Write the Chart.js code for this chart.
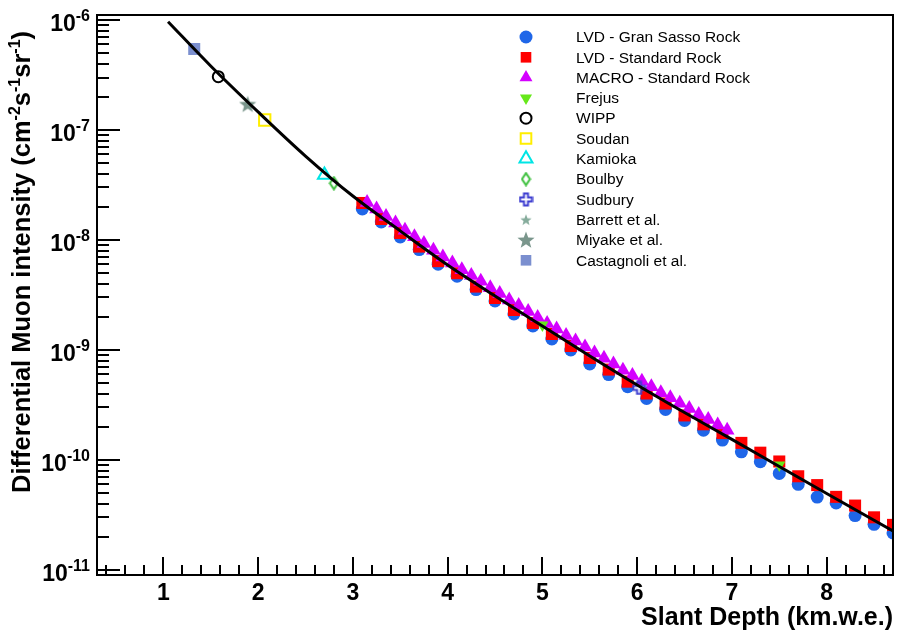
<!DOCTYPE html>
<html>
<head>
<meta charset="utf-8">
<script src="https://cdn.jsdelivr.net/npm/chart.js@4.4.1/dist/chart.umd.min.js"></script>
<style>
  html, body { margin: 0; background: #fff; }
  #wrap { width: 903px; height: 633px; }
</style>
</head>
<body>
<div id="wrap"><canvas id="chart" width="903" height="633"></canvas></div>
<script>
// Depth-intensity relation, values (km w.e. / cm^-2 s^-1 sr^-1)
const fitDepth = [1.05, 1.5, 2, 2.5, 3, 3.5, 4, 4.5, 5, 5.5, 6, 6.5, 7, 7.5, 8, 8.7];
const fitIntensity = [9.65e-7, 3.82e-7, 1.46e-7, 5.80e-8, 2.51e-8, 1.21e-8, 5.93e-9, 3.10e-9,
  1.65e-9, 8.82e-10, 4.81e-10, 2.70e-10, 1.54e-10, 8.73e-11, 4.96e-11, 2.26e-11];

const lvdDepth = [3.1, 3.3, 3.5, 3.7, 3.9, 4.1, 4.3, 4.5, 4.7, 4.9, 5.1, 5.3, 5.5, 5.7, 5.9,
  6.1, 6.3, 6.5, 6.7, 6.9, 7.1, 7.3, 7.5, 7.7, 7.9, 8.1, 8.3, 8.5, 8.7];
const lvdGranSasso = [1.913e-8, 1.457e-8, 1.065e-8, 8.18e-9, 6.03e-9, 4.69e-9, 3.54e-9, 2.79e-9,
  2.125e-9, 1.652e-9, 1.259e-9, 1.0e-9, 7.46e-10, 5.98e-10, 4.64e-10, 3.62e-10, 2.88e-10,
  2.29e-10, 1.862e-10, 1.517e-10, 1.185e-10, 9.65e-11, 7.54e-11, 6.01e-11, 4.60e-11, 4.07e-11,
  3.12e-11, 2.60e-11, 2.17e-11];
const lvdStandard = [2.17e-8, 1.552e-8, 1.158e-8, 8.71e-9, 6.42e-9, 4.99e-9, 3.77e-9, 2.97e-9,
  2.31e-9, 1.76e-9, 1.398e-9, 1.087e-9, 8.46e-10, 6.63e-10, 5.15e-10, 4.02e-10, 3.26e-10,
  2.54e-10, 2.11e-10, 1.756e-10, 1.43e-10, 1.165e-10, 9.69e-11, 7.11e-11, 5.91e-11, 4.62e-11,
  3.85e-11, 3.01e-11, 2.57e-11];

const macroDepth = [3.15, 3.25, 3.35, 3.45, 3.55, 3.65, 3.75, 3.85, 3.95, 4.05, 4.15, 4.25, 4.35,
  4.45, 4.55, 4.65, 4.75, 4.85, 4.95, 5.05, 5.15, 5.25, 5.35, 5.45, 5.55, 5.65, 5.75, 5.85, 5.95,
  6.05, 6.15, 6.25, 6.35, 6.45, 6.55, 6.65, 6.75, 6.85, 6.95];
const macroStandard = [2.19e-8, 1.913e-8, 1.635e-8, 1.427e-8, 1.223e-8, 1.072e-8, 9.29e-9,
  8.06e-9, 6.99e-9, 6.17e-9, 5.36e-9, 4.76e-9, 4.22e-9, 3.67e-9, 3.26e-9, 2.85e-9, 2.54e-9,
  2.24e-9, 1.975e-9, 1.741e-9, 1.552e-9, 1.354e-9, 1.207e-9, 1.065e-9, 9.41e-10, 8.42e-10,
  7.46e-10, 6.54e-10, 5.85e-10, 5.20e-10, 4.63e-10, 4.09e-10, 3.68e-10, 3.28e-10, 2.93e-10,
  2.59e-10, 2.33e-10, 2.08e-10, 1.862e-10];

const frejusDepth = [5.0, 7.5];
const frejus = [1.69e-9, 9.0e-11];
const wippDepth = [1.58];
const wipp = [3.05e-7];
const soudanDepth = [2.07];
const soudan = [1.233e-7];
const kamiokaDepth = [2.70];
const kamioka = [3.90e-8];
const boulbyDepth = [2.80];
const boulby = [3.28e-8];
const sudburyDepth = [6.02];
const sudbury = [4.52e-10];
const barrettDepth = [1.89];
const barrett = [1.71e-7];
const miyakeDepth = [1.89];
const miyake = [1.71e-7];
const castagnoliDepth = [1.326];
const castagnoli = [5.45e-7];

const xMajorTicks = [1, 2, 3, 4, 5, 6, 7, 8];
const yDecades = [-11, -10, -9, -8, -7, -6];

const FONT = '"Liberation Sans", Arial, Helvetica, sans-serif';

function pts(xs, ys) {
  return xs.map((x, i) => ({ x, y: ys[i] }));
}

function markerCanvas(w, h, draw) {
  const c = document.createElement("canvas");
  c.width = w;
  c.height = h;
  draw(c.getContext("2d"), w, h);
  return c;
}

function star(size, color) {
  return markerCanvas(size, size, (g, w) => {
    const r = w / 2, ri = r * 0.42;
    g.beginPath();
    for (let i = 0; i < 10; i++) {
      const a = -Math.PI / 2 + i * Math.PI / 5;
      const rr = i % 2 ? ri : r;
      g.lineTo(r + rr * Math.cos(a), r + rr * Math.sin(a) + 0.5);
    }
    g.closePath();
    g.fillStyle = color;
    g.fill();
  });
}

const diamond = markerCanvas(11, 15, (g, w, h) => {
  g.beginPath();
  g.moveTo(w / 2, 1.5); g.lineTo(w - 1.5, h / 2); g.lineTo(w / 2, h - 1.5); g.lineTo(1.5, h / 2);
  g.closePath();
  g.strokeStyle = "#3cbf3c";
  g.lineWidth = 2;
  g.stroke();
});

const openCross = markerCanvas(15, 15, (g) => {
  const a = 1.5, b = 5.5, c = 9.5, d = 13.5;
  g.beginPath();
  g.moveTo(b, a); g.lineTo(c, a); g.lineTo(c, b); g.lineTo(d, b); g.lineTo(d, c); g.lineTo(c, c);
  g.lineTo(c, d); g.lineTo(b, d); g.lineTo(b, c); g.lineTo(a, c); g.lineTo(a, b); g.lineTo(b, b);
  g.closePath();
  g.strokeStyle = "#3c3cd0";
  g.lineWidth = 2;
  g.stroke();
});

const NONE = "rgba(0,0,0,0)";

const datasets = [
  { label: "LVD - Gran Sasso Rock", data: pts(lvdDepth, lvdGranSasso), pointStyle: "circle",
    pointRadius: 6.5, backgroundColor: "#1f66e8", borderColor: "#1f66e8", borderWidth: 0, order: 12 },
  { label: "LVD - Standard Rock", data: pts(lvdDepth, lvdStandard), pointStyle: "rect",
    pointRadius: 8.5, backgroundColor: "#ff0000", borderColor: "#ff0000", borderWidth: 0, order: 11 },
  { label: "MACRO - Standard Rock", data: pts(macroDepth, macroStandard), pointStyle: "triangle",
    pointRadius: 8.5, backgroundColor: "#d400ff", borderColor: "#d400ff", borderWidth: 0, order: 10 },
  { label: "Frejus", data: pts(frejusDepth, frejus), pointStyle: "triangle", rotation: 180,
    pointRadius: 7, backgroundColor: "#66e81a", borderColor: "#66e81a", borderWidth: 0, order: 9 },
  { label: "WIPP", data: pts(wippDepth, wipp), pointStyle: "circle",
    pointRadius: 5.5, backgroundColor: NONE, borderColor: "#000", borderWidth: 2, order: 8 },
  { label: "Soudan", data: pts(soudanDepth, soudan), pointStyle: "rect",
    pointRadius: 8, backgroundColor: NONE, borderColor: "#ffee00", borderWidth: 2, order: 7 },
  { label: "Kamioka", data: pts(kamiokaDepth, kamioka), pointStyle: "triangle",
    pointRadius: 7.5, backgroundColor: NONE, borderColor: "#00e5e5", borderWidth: 2, order: 6 },
  { label: "Boulby", data: pts(boulbyDepth, boulby), pointStyle: diamond,
    pointRadius: 6, backgroundColor: NONE, borderColor: "#3cbf3c", borderWidth: 0, order: 5 },
  { label: "Sudbury", data: pts(sudburyDepth, sudbury), pointStyle: openCross,
    pointRadius: 7, backgroundColor: NONE, borderColor: "#3c3cd0", borderWidth: 0, order: 4 },
  { label: "Barrett et al.", data: pts(barrettDepth, barrett), pointStyle: star(12, "#86ac9c"),
    pointRadius: 6, backgroundColor: "#86ac9c", borderColor: "#86ac9c", borderWidth: 0, order: 3 },
  { label: "Miyake et al.", data: pts(miyakeDepth, miyake), pointStyle: star(18, "#7a968c"),
    pointRadius: 9, backgroundColor: "#7a968c", borderColor: "#7a968c", borderWidth: 0, order: 2 },
  { label: "Castagnoli et al.", data: pts(castagnoliDepth, castagnoli), pointStyle: "rect",
    pointRadius: 8.5, backgroundColor: "#7b8fcf", borderColor: "#7b8fcf", borderWidth: 0, order: 1 },
  { label: "", type: "line", data: pts(fitDepth, fitIntensity), showLine: true, pointRadius: 0,
    borderColor: "#000", borderWidth: 3, cubicInterpolationMode: "monotone", fill: false, order: 0 },
];

// rich text: parts = [[text, isSup]]
function drawRich(ctx, parts, x, y, size, supSize, rise, align) {
  const fonts = parts.map((p) => `bold ${p[1] ? supSize : size}px ${FONT}`);
  const widths = parts.map((p, i) => { ctx.font = fonts[i]; return ctx.measureText(p[0]).width; });
  const total = widths.reduce((a, b) => a + b, 0);
  let cx = align === "center" ? x - total / 2 : align === "right" ? x - total : x;
  ctx.textAlign = "left";
  ctx.textBaseline = "alphabetic";
  parts.forEach((p, i) => {
    ctx.font = fonts[i];
    ctx.fillText(p[0], cx, p[1] ? y - rise : y);
    cx += widths[i];
  });
}

const rootAxes = {
  id: "rootAxes",
  afterDraw(chart) {
    const { ctx, chartArea: a, scales: { x, y } } = chart;
    ctx.save();
    ctx.strokeStyle = "#000";
    ctx.fillStyle = "#000";
    ctx.lineWidth = 2;
    ctx.strokeRect(a.left, a.top, a.right - a.left, a.bottom - a.top);

    ctx.beginPath();
    yDecades.forEach((d) => {
      for (let m = 1; m <= 9; m++) {
        const v = m * Math.pow(10, d);
        if (v < y.min || v > y.max) continue;
        const py = Math.round(y.getPixelForValue(v));
        ctx.moveTo(a.left, py);
        ctx.lineTo(a.left + (m === 1 ? 23 : 12), py);
      }
    });
    for (let k = 2; k <= 43; k++) {
      const px = Math.round(x.getPixelForValue(k * 0.2));
      ctx.moveTo(px, a.bottom);
      ctx.lineTo(px, a.bottom - (k % 5 === 0 ? 18 : 10));
    }
    ctx.stroke();

    // tick labels
    ctx.font = `bold 23px ${FONT}`;
    ctx.textAlign = "center";
    ctx.textBaseline = "alphabetic";
    xMajorTicks.forEach((t) => ctx.fillText(String(t), x.getPixelForValue(t), a.bottom + 25));
    yDecades.forEach((d) => {
      const py = y.getPixelForValue(Math.pow(10, d));
      drawRich(ctx, [["10", false], [String(d), true]], a.left - 7, py + 11, 23, 16, 10, "right");
    });

    // axis titles
    ctx.font = `bold 25px ${FONT}`;
    ctx.textAlign = "right";
    ctx.fillText("Slant Depth (km.w.e.)", a.right, 625);

    ctx.translate(30, 262);
    ctx.rotate(-Math.PI / 2);
    drawRich(ctx, [["Differential Muon intensity (cm", false], ["-2", true], ["s", false],
      ["-1", true], ["sr", false], ["-1", true], [")", false]], 0, 0, 25.5, 16, 10, "center");
    ctx.restore();
  },
};

const boxLegend = {
  id: "boxLegend",
  afterDraw(chart) {
    const { ctx } = chart;
    ctx.save();
    chart.data.datasets.filter((ds) => ds.label).forEach((ds, i) => {
      const yy = 37 + i * 20.3;
      ctx.fillStyle = ds.backgroundColor;
      ctx.strokeStyle = ds.borderColor;
      ctx.lineWidth = ds.borderWidth;
      Chart.helpers.drawPoint(ctx, {
        pointStyle: ds.pointStyle, radius: Math.min(ds.pointRadius, 7.5),
        rotation: ds.rotation || 0, borderWidth: ds.borderWidth,
      }, 526, yy);
      ctx.fillStyle = "#000";
      ctx.font = `15.5px ${FONT}`;
      ctx.textAlign = "left";
      ctx.textBaseline = "middle";
      ctx.fillText(ds.label, 576, yy + 1);
    });
    ctx.restore();
  },
};

new Chart(document.getElementById("chart"), {
  type: "scatter",
  data: { datasets },
  options: {
    responsive: false,
    animation: false,
    layout: { padding: { left: 97, top: 15, right: 8, bottom: 58 } },
    plugins: { legend: { display: false }, tooltip: { enabled: false } },
    scales: {
      x: { type: "linear", min: 0.3, max: 8.7, display: false },
      y: { type: "logarithmic", min: 9.0e-12, max: 1.11e-6, display: false },
    },
  },
  plugins: [rootAxes, boxLegend],
});
</script>
</body>
</html>
